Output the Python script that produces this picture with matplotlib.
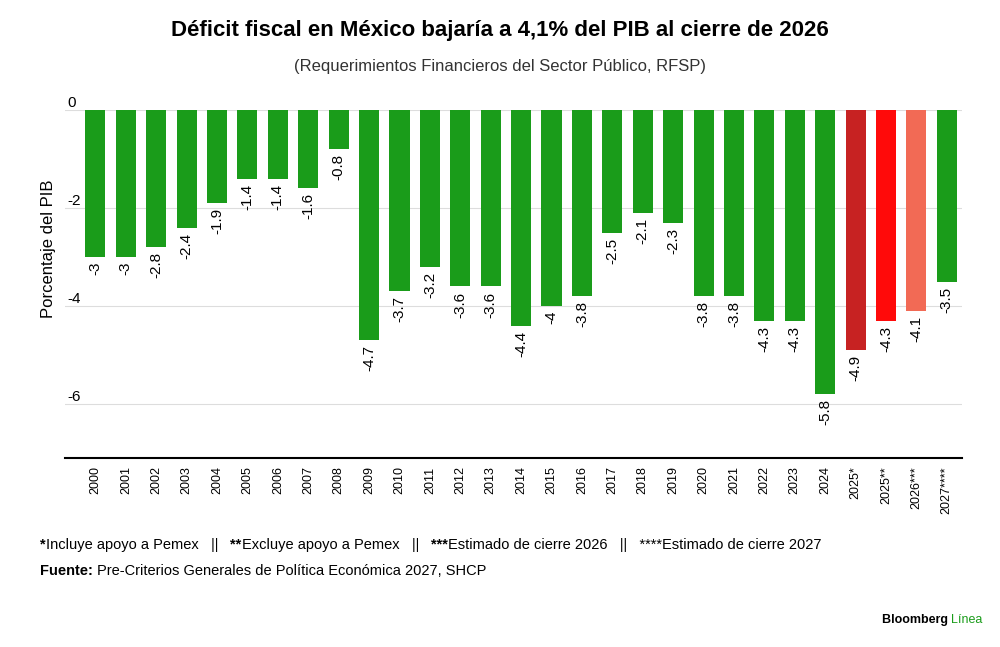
import matplotlib.pyplot as plt

years = ["2000", "2001", "2002", "2003", "2004", "2005", "2006", "2007", "2008", "2009",
         "2010", "2011", "2012", "2013", "2014", "2015", "2016", "2017", "2018", "2019",
         "2020", "2021", "2022", "2023", "2024", "2025*", "2025**", "2026***", "2027****"]
values = [-3, -3, -2.8, -2.4, -1.9, -1.4, -1.4, -1.6, -0.8, -4.7,
          -3.7, -3.2, -3.6, -3.6, -4.4, -4, -3.8, -2.5, -2.1, -2.3,
          -3.8, -3.8, -4.3, -4.3, -5.8, -4.9, -4.3, -4.1, -3.5]
green = "#1a9c1a"
colors = [green] * 25 + ["#c72222", "#ff0a0a", "#f26a55", green]

plt.rcParams['font.family'] = ['Liberation Sans', 'DejaVu Sans']
fig = plt.figure(figsize=(10, 6.47), dpi=100)
ax = fig.add_axes([0.065, 0.292, 0.897, 0.538])

x = range(len(years))
ax.bar(x, values, width=0.66, color=colors, zorder=2)
for i, v in enumerate(values):
    ax.text(i, v - 0.1, f"{v:g}", rotation=90, ha='center', va='top', fontsize=11)

ax.set_xlim(-1.0, len(years) - 0.5)
ax.set_ylim(-7.1, 0)
ax.set_yticks([0, -2, -4, -6])
ax.set_yticklabels(["0", "-2", "-4", "-6"])
ax.yaxis.grid(True, color="#dddddd", lw=0.8, zorder=0)
ax.tick_params(axis='y', length=0, labelsize=11, pad=-2)
for lab in ax.get_yticklabels():
    lab.set_horizontalalignment('left')
    lab.set_verticalalignment('bottom')
ax.set_xticks(list(x))
ax.set_xticklabels(years, rotation=90, fontsize=9)
ax.tick_params(axis='x', length=0, pad=6)
for s in ["top", "right", "left"]:
    ax.spines[s].set_visible(False)
ax.spines["bottom"].set_linewidth(1.5)
ax.set_ylabel("Porcentaje del PIB", fontsize=12)
ax.yaxis.set_label_coords(-0.01, 0.6)

fig.text(0.5, 0.945, "Déficit fiscal en México bajaría a 4,1% del PIB al cierre de 2026",
         ha='center', fontsize=16, fontweight='bold')
fig.text(0.5, 0.89, "(Requerimientos Financieros del Sector Público, RFSP)",
         ha='center', fontsize=12, color="#333333")

# footnote line built from pieces so that some parts can be bold
pieces = [("*", True), ("Incluye apoyo a Pemex   ||   ", False), ("**", True),
          ("Excluye apoyo a Pemex   ||   ", False), ("***", True),
          ("Estimado de cierre 2026   ||   ****Estimado de cierre 2027", False)]
fig.canvas.draw()
r = fig.canvas.get_renderer()
xpos = 0.04
for txt, bold in pieces:
    t = fig.text(xpos, 0.152, txt, fontsize=10.5, fontweight='bold' if bold else 'normal')
    xpos += t.get_window_extent(r).width / fig.bbox.width
t = fig.text(0.04, 0.112, "Fuente: ", fontsize=10.5, fontweight='bold')
w = t.get_window_extent(r).width / fig.bbox.width
fig.text(0.04 + w, 0.112, "Pre-Criterios Generales de Política Económica 2027, SHCP", fontsize=10.5)
t = fig.text(0.882, 0.037, "Bloomberg ", fontsize=9, fontweight='bold')
w = t.get_window_extent(r).width / fig.bbox.width
fig.text(0.882 + w, 0.037, "Línea", fontsize=9, color=green)

fig.savefig("out.png", dpi=100, facecolor="white")
